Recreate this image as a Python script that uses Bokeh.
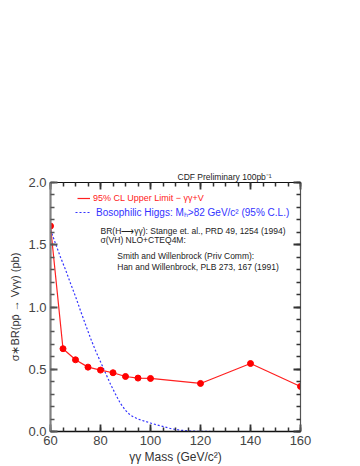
from bokeh.plotting import figure
from bokeh.models import (Range1d, LinearAxis, Label, Legend, LegendItem, Title,
                          SingleIntervalTicker, PrintfTickFormatter,
                          CustomJSTickFormatter)
from bokeh.embed import file_html
from bokeh.resources import INLINE

# --- data ---
mass = [60, 65, 70, 75, 80, 85, 90, 95, 100, 120, 140, 160]
limit = [1.65, 0.665, 0.576, 0.517, 0.493, 0.472, 0.442, 0.429, 0.426, 0.386, 0.546, 0.362]

higgs_mass = [60, 62, 64, 66, 68, 70, 72, 74, 76, 78, 80, 82, 84, 86, 88, 90, 92,
              95, 100, 104, 108, 112, 116, 120, 125, 130]
higgs_xsec = [1.62, 1.51, 1.40, 1.30, 1.19, 1.085, 0.97, 0.86, 0.75, 0.65, 0.56, 0.47,
              0.38, 0.30, 0.225, 0.17, 0.13, 0.10, 0.068, 0.045, 0.024, 0.010, 0.004,
              0.001, 0.0, 0.0]

X_MIN, X_MAX, Y_MIN, Y_MAX = 60, 160, 0.0, 2.0

FONT = "Liberation Sans"
TXC = "#444444"

p = figure(width=352, height=466, output_backend="svg", toolbar_location=None,
           x_range=Range1d(X_MIN, X_MAX), y_range=Range1d(Y_MIN, Y_MAX),
           min_border_left=50, min_border_top=182, min_border_right=52,
           min_border_bottom=34,
           x_axis_label="γγ Mass (GeV/c²)",
           y_axis_label="σ∗BR(pp̄ → Vγγ) (pb)")
p.outline_line_color = None
p.grid.visible = False
p.background_fill_color = "white"
p.border_fill_color = "white"

def style(ax, color, width, tick_color, labels=True):
    ax.axis_line_color = color
    ax.axis_line_width = width
    ax.major_tick_line_color = tick_color
    ax.minor_tick_line_color = tick_color
    ax.major_tick_line_width = 1.8
    ax.minor_tick_line_width = 1.5
    ax.major_tick_in = 7
    ax.major_tick_out = 0
    ax.minor_tick_in = 4
    ax.minor_tick_out = 0
    ax.major_label_text_font = FONT
    ax.major_label_text_font_size = "13px"
    ax.major_label_text_color = TXC
    ax.major_label_standoff = 4
    ax.axis_label_text_font = FONT
    ax.axis_label_text_font_style = "normal"
    ax.axis_label_text_color = "#333333"
    ax.axis_label_standoff = 2
    if not labels:
        ax.formatter = CustomJSTickFormatter(code="return ''")

p.xaxis.ticker = SingleIntervalTicker(interval=20, num_minor_ticks=4)
p.yaxis.ticker = SingleIntervalTicker(interval=0.5, num_minor_ticks=5)
for ax in p.xaxis:
    style(ax, "#111111", 1.3, "#333333")
for ax in p.yaxis:
    style(ax, "#808080", 2.2, "#555555")
p.yaxis.formatter = PrintfTickFormatter(format="%.1f")
p.xaxis.axis_label_text_font_size = "12px"
p.yaxis.axis_label_text_font_size = "11px"
p.yaxis.axis_label_standoff = 4

top = LinearAxis(ticker=SingleIntervalTicker(interval=20, num_minor_ticks=4))
right = LinearAxis(ticker=SingleIntervalTicker(interval=0.5, num_minor_ticks=5))
style(top, "#111111", 1.2, "#333333", labels=False)
style(right, "#555555", 1.2, "#333333", labels=False)
p.add_layout(top, "above")
p.add_layout(right, "right")

# --- data marks ---
blue = p.line(higgs_mass, higgs_xsec, line_color="#3333ff", line_width=1.2,
              line_dash="2 2")
red = p.line(mass, limit, line_color="#ff2020", line_width=1.2)
p.scatter(mass, limit, size=6, fill_color="#ff0000", line_color="#ff0000")

# --- legends ---
leg1 = Legend(items=[LegendItem(label="95% CL Upper Limit − γγ+V", renderers=[red])],
              location=(27, 228), padding=0, margin=0, spacing=0,
              glyph_width=13, glyph_height=10, label_height=10, label_standoff=3,
              label_text_font=FONT, label_text_font_size="9px",
              label_text_color="#ff2020", border_line_color=None,
              background_fill_alpha=0)
leg2 = Legend(items=[LegendItem(label="Bosophilic Higgs: Mₕ>82 GeV/c² (95% C.L.)", renderers=[blue])],
              location=(25, 212), padding=0, margin=0, spacing=0,
              glyph_width=16, glyph_height=10, label_height=10, label_standoff=5,
              label_text_font=FONT, label_text_font_size="10px",
              label_text_color="#3333ff", border_line_color=None,
              background_fill_alpha=0)
p.add_layout(leg1)
p.add_layout(leg2)

# --- annotation text ---
def note(x, y, t, size="8.5px", color="#222222", align="left"):
    p.add_layout(Label(x=x, y=y, text=t, text_font=FONT, text_font_size=size,
                       text_color=color, text_align=align, text_baseline="middle"))

note(80, 1.613, "BR(H⟶γγ): Stange et. al., PRD 49, 1254 (1994)")
note(80, 1.538, "σ(VH) NLO+CTEQ4M:")
note(86.7, 1.41, "Smith and Willenbrock (Priv Comm):")
note(86.7, 1.32, "Han and Willenbrock, PLB 273, 167 (1991)")

t = Title(text="CDF Preliminary 100pb⁻¹", align="left", offset=127,
          text_font=FONT, text_font_size="8.5px", text_font_style="normal",
          text_color="#222222", standoff=1)
p.add_layout(t, "above")

open("out.html", "w").write(file_html(p, INLINE))
